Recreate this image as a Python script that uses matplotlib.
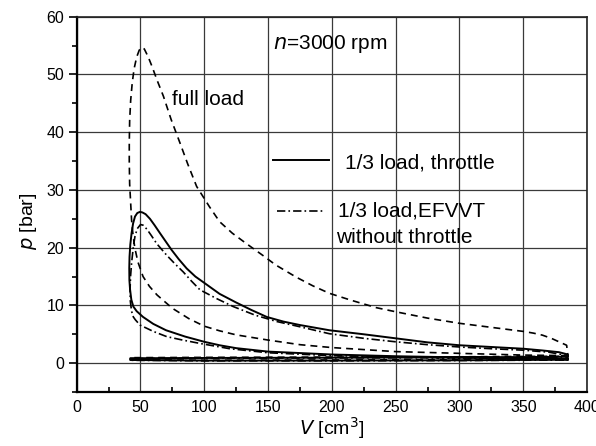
import numpy as np
import matplotlib.pyplot as plt
from matplotlib.ticker import MultipleLocator

plt.rcParams['font.family'] = ['Liberation Sans', 'DejaVu Sans']
plt.rcParams['lines.scale_dashes'] = False

# full load (dashed): compression, combustion, expansion, gas exchange loop
full_V = [385, 350, 300, 250, 225, 200, 175, 150, 125, 112, 100, 88, 75, 63, 57, 52, 48, 45.5, 44, 43,
          41.5, 41.2, 41.2, 41.5, 42.3, 43.5, 45, 47, 49, 51,
          53, 55, 57, 59, 63, 68, 74, 81, 87, 94, 104, 112, 122, 133, 145, 156, 172, 185, 198,
          215, 235, 250, 275, 300, 325, 350, 358, 365, 372, 378, 384,
          385, 300, 200, 100, 42, 42, 100, 200, 300, 385]
full_p = [1.3, 1.4, 1.7, 2.0, 2.35, 2.7, 3.2, 4.0, 4.9, 5.6, 6.4, 7.7, 9.5, 11.8, 13.3, 15.0, 17.5, 20.0, 22.5, 24.8,
          31, 35, 38, 42, 45.5, 48.5, 51, 53, 54.2, 54.7,
          54.4, 53.5, 52.5, 51.4, 49, 46.2, 42.2, 38.1, 34.5, 30.6, 27.1, 24.5, 22.5, 20.7, 18.8, 17.0, 14.9, 13.4, 12.1,
          10.9, 9.6, 8.9, 7.8, 6.9, 6.2, 5.5, 5.2, 4.85, 4.3, 3.7, 3.1,
          1.2, 1.1, 1.05, 1.0, 0.95, 0.6, 0.5, 0.55, 0.6, 0.7]

# 1/3 load, throttle (solid)
thr_V = [385, 350, 300, 250, 200, 175, 150, 125, 112, 100, 85, 70, 60, 52, 47, 44.4, 42.8, 41.8,
         41.3, 41.2, 41.4, 42, 43, 44.2, 45.7, 47.5, 49.6, 51.5, 54, 57.4, 61, 65.3, 70, 74.4, 80,
         86.2, 93, 100, 112, 125, 137, 149, 162, 175, 198, 225, 250, 275, 300, 325, 350, 365, 378, 385,
         385, 300, 200, 100, 42, 42, 100, 200, 300, 385]
thr_p = [0.7, 0.85, 1.0, 1.2, 1.5, 1.75, 2.0, 2.6, 3.1, 3.7, 4.6, 5.7, 6.8, 8.0, 9.0, 9.8, 11.0, 12.8,
         14.4, 16.5, 18.4, 20.5, 22.5, 24.2, 25.4, 26.0, 26.2, 26.1, 25.8, 25.0, 23.9, 22.5, 21.0, 19.6, 18.0,
         16.4, 15.0, 13.9, 12.0, 10.5, 9.2, 8.0, 7.2, 6.6, 5.7, 5.0, 4.3, 3.6, 3.1, 2.8, 2.5, 2.2, 1.9, 1.5,
         1.1, 1.0, 0.95, 0.9, 0.85, 0.55, 0.45, 0.45, 0.5, 0.6]

# 1/3 load, EFVVT without throttle (dash-dot)
ef_V = [385, 350, 300, 250, 200, 150, 120, 97, 83, 70.5, 60, 49.6, 46, 44.4, 43, 42,
        41.8, 42.2, 43, 44.4, 45.7, 47.5, 50, 52, 55, 58.5, 62.7, 70.5, 77, 83.5, 90, 96.6,
        109.5, 122.7, 140, 157, 175, 198, 225, 250, 275, 300, 325, 350, 370, 385,
        385, 300, 200, 100, 42, 42, 100, 200, 300, 385]
ef_p = [0.6, 0.75, 0.9, 1.1, 1.3, 1.8, 2.5, 3.4, 4.0, 4.6, 5.5, 6.6, 7.5, 8.0, 9.0, 10.8,
        12.7, 15.0, 17.3, 20.2, 22.0, 23.3, 24.0, 23.9, 23.2, 22.1, 20.7, 18.7, 17.2, 15.8, 14.2, 12.7,
        11.2, 9.8, 8.3, 7.2, 6.3, 5.1, 4.3, 3.7, 3.2, 2.8, 2.5, 2.25, 1.9, 1.3,
        1.0, 0.95, 0.9, 0.85, 0.8, 0.5, 0.4, 0.4, 0.45, 0.55]

fig = plt.figure(figsize=(5.96, 4.46), dpi=100)
ax = fig.add_axes([0.1287, 0.121, 0.8563, 0.8416])

ax.plot(full_V, full_p, color='black', lw=1.2, dashes=(5, 3.6))
ax.plot(thr_V, thr_p, color='black', lw=1.4, ls='-')
ax.plot(ef_V, ef_p, color='black', lw=1.2, dashes=(6, 2.2, 1.2, 2.2))

ax.set_xlim(0, 400)
ax.set_ylim(-5, 60)
ax.xaxis.set_major_locator(MultipleLocator(50))
ax.xaxis.set_minor_locator(MultipleLocator(25))
ax.yaxis.set_major_locator(MultipleLocator(10))
ax.yaxis.set_minor_locator(MultipleLocator(5))
ax.set_yticks(np.arange(0, 61, 10))
ax.grid(True, which='major', color='#3a3a3a', lw=0.9)
ax.set_axisbelow(True)

ax.tick_params(axis='x', which='both', direction='in', labelsize=11.5, pad=6)
ax.tick_params(axis='x', which='major', length=0)
ax.tick_params(axis='x', which='minor', length=3.5, width=1.2)
ax.tick_params(axis='y', which='both', direction='out', labelsize=11.5, pad=3, width=1.2)
ax.tick_params(axis='y', which='major', length=6)
ax.tick_params(axis='y', which='minor', length=3.5)

for s in ['left', 'bottom']:
    ax.spines[s].set_linewidth(1.6)
for s in ['top', 'right']:
    ax.spines[s].set_linewidth(1.2)
    ax.spines[s].set_color('#222222')

ax.set_xlabel('$\\mathit{V}$ [cm$^3$]', fontsize=14, labelpad=0)
ax.set_ylabel('$\\mathit{p}$ [bar]', fontsize=14)
ax.yaxis.set_label_coords(-0.074, 0.456)

# annotations and hand placed legend
ax.text(0.385, 0.928, '$\\mathit{n}$=3000 rpm', transform=ax.transAxes,
        fontsize=15, va='center', ha='left')
ax.text(0.186, 0.779, 'full load', transform=ax.transAxes,
        fontsize=15, va='center', ha='left')
ax.plot([0.385, 0.494], [0.619, 0.619], transform=ax.transAxes, color='black', lw=1.4)
ax.text(0.526, 0.611, '1/3 load, throttle', transform=ax.transAxes,
        fontsize=15, va='center', ha='left')
ax.plot([0.392, 0.487], [0.483, 0.483], transform=ax.transAxes, color='black', lw=1.2,
        dashes=(6, 2.2, 1.2, 2.2))
ax.text(0.512, 0.483, '1/3 load,EFVVT', transform=ax.transAxes,
        fontsize=15, va='center', ha='left')
ax.text(0.509, 0.413, 'without throttle', transform=ax.transAxes,
        fontsize=15, va='center', ha='left')

fig.savefig('out.png', dpi=100)
